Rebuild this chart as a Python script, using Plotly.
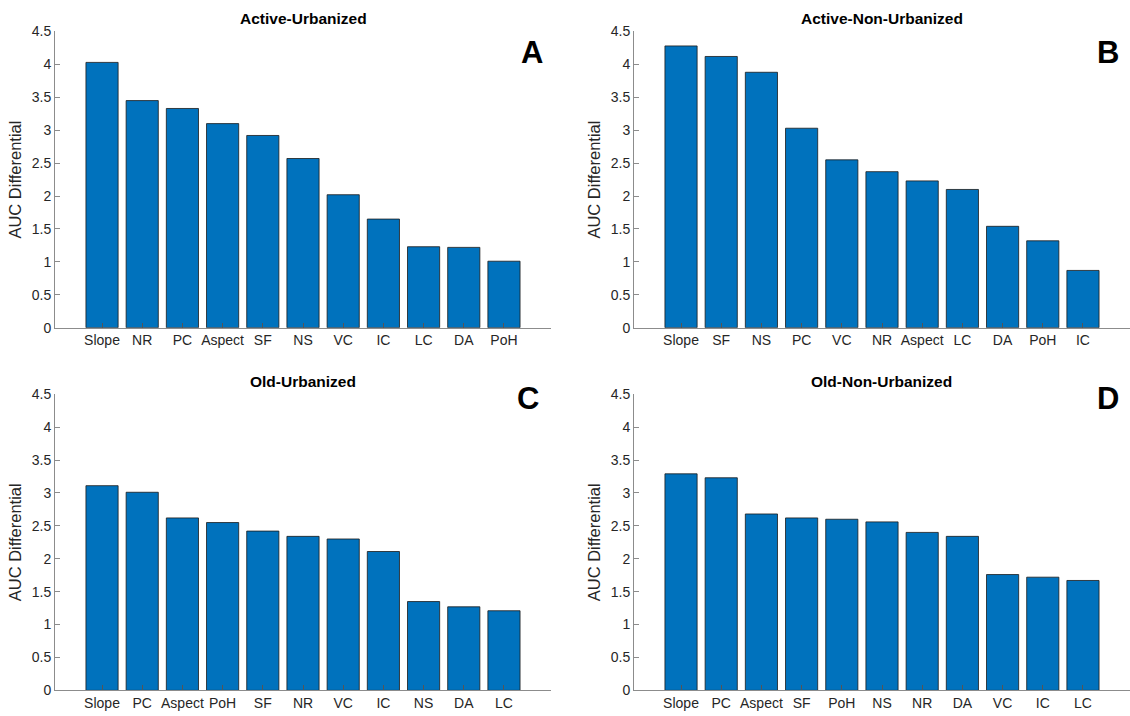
import plotly.graph_objects as go

W, H = 1130, 716

# ---- data ----
cats_a = ["Slope", "NR", "PC", "Aspect", "SF", "NS", "VC", "IC", "LC", "DA", "PoH"]
vals_a = [4.03, 3.45, 3.33, 3.10, 2.92, 2.57, 2.02, 1.65, 1.23, 1.22, 1.01]

cats_b = ["Slope", "SF", "NS", "PC", "VC", "NR", "Aspect", "LC", "DA", "PoH", "IC"]
vals_b = [4.28, 4.12, 3.88, 3.03, 2.55, 2.37, 2.23, 2.10, 1.54, 1.32, 0.87]

cats_c = ["Slope", "PC", "Aspect", "PoH", "SF", "NR", "VC", "IC", "NS", "DA", "LC"]
vals_c = [3.11, 3.01, 2.62, 2.55, 2.42, 2.34, 2.30, 2.11, 1.35, 1.27, 1.21]

cats_d = ["Slope", "PC", "Aspect", "SF", "PoH", "NS", "NR", "DA", "VC", "IC", "LC"]
vals_d = [3.29, 3.23, 2.68, 2.62, 2.60, 2.56, 2.40, 2.34, 1.76, 1.72, 1.67]

titles = ["Active-Urbanized", "Active-Non-Urbanized", "Old-Urbanized", "Old-Non-Urbanized"]
letters = ["A", "B", "C", "D"]
y_ticks = [0, 0.5, 1, 1.5, 2, 2.5, 3, 3.5, 4, 4.5]

panels = [(cats_a, vals_a), (cats_b, vals_b), (cats_c, vals_c), (cats_d, vals_d)]

# pixel geometry of each axes box: (left, right, top, bottom)
boxes = [(55, 551, 24, 327), (634, 1130, 24, 327),
         (55, 551, 395, 698), (634, 1130, 395, 698)]
title_y = [11, 11, 382, 382]
letter_xy = [(532, 46), (1108, 46), (528, 399), (1108, 399)]

FONT = "Liberation Sans, Arial, Helvetica, sans-serif"
TXT = "#262626"
AXC = "#8c8c8c"
BAR = "#0072BD"

fig = go.Figure()
layout = dict(width=W, height=H, margin=dict(l=0, r=0, t=0, b=0, pad=0),
              paper_bgcolor="white", plot_bgcolor="white", showlegend=False,
              font=dict(family=FONT, color=TXT, size=14))
annotations = []

for i, ((cats, vals), (l, r, t, b)) in enumerate(zip(panels, boxes)):
    xa = "x" if i == 0 else f"x{i+1}"
    ya = "y" if i == 0 else f"y{i+1}"
    pos = list(range(len(cats)))
    fig.add_trace(go.Bar(x=pos, y=vals, width=0.8, xaxis=xa, yaxis=ya,
                         marker=dict(color=BAR, line=dict(color="#1a1a1a", width=0.8)),
                         hoverinfo="x+y"))
    kx = "xaxis" if i == 0 else f"xaxis{i+1}"
    ky = "yaxis" if i == 0 else f"yaxis{i+1}"
    layout[kx] = dict(domain=[l / W, r / W], anchor=ya, range=[-1.17, len(cats) - 1 + 1.17],
                      tickmode="array", tickvals=pos, ticktext=cats,
                      showline=True, linecolor=AXC, linewidth=1,
                      ticks="inside", ticklen=5, tickcolor="#555555", tickwidth=1,
                      showgrid=False, zeroline=False, fixedrange=True,
                      tickfont=dict(size=14, color=TXT, family=FONT))
    layout[ky] = dict(domain=[1 - b / H, 1 - t / H], anchor=xa, range=[0, 4.5],
                      tickmode="array", tickvals=y_ticks,
                      ticktext=[f"{v:g}" for v in y_ticks],
                      showline=True, linecolor=AXC, linewidth=1,
                      ticks="inside", ticklen=5, tickcolor=AXC, tickwidth=1,
                      showgrid=False, zeroline=False, fixedrange=True,
                      tickfont=dict(size=14, color=TXT, family=FONT),
                      title=dict(text="AUC Differential", standoff=5,
                                 font=dict(size=16.5, color=TXT, family=FONT)))
    annotations.append(dict(text=f"<b>{titles[i]}</b>", x=(l + r) / 2 / W, y=1 - title_y[i] / H,
                            xref="paper", yref="paper", showarrow=False,
                            xanchor="center", yanchor="middle",
                            font=dict(size=15.5, color="#000000", family=FONT)))
    lx, ly = letter_xy[i]
    annotations.append(dict(text=f"<b>{letters[i]}</b>", x=lx / W, y=1 - ly / H,
                            xref="paper", yref="paper", showarrow=False,
                            xanchor="center", yanchor="middle",
                            font=dict(size=31, color="#000000", family=FONT)))

layout["annotations"] = annotations
fig.update_layout(**layout)
fig.write_html("out.html", config={"displayModeBar": False},
               post_script="document.body.style.margin='0';document.body.style.padding='0';document.documentElement.style.overflow='hidden';")
